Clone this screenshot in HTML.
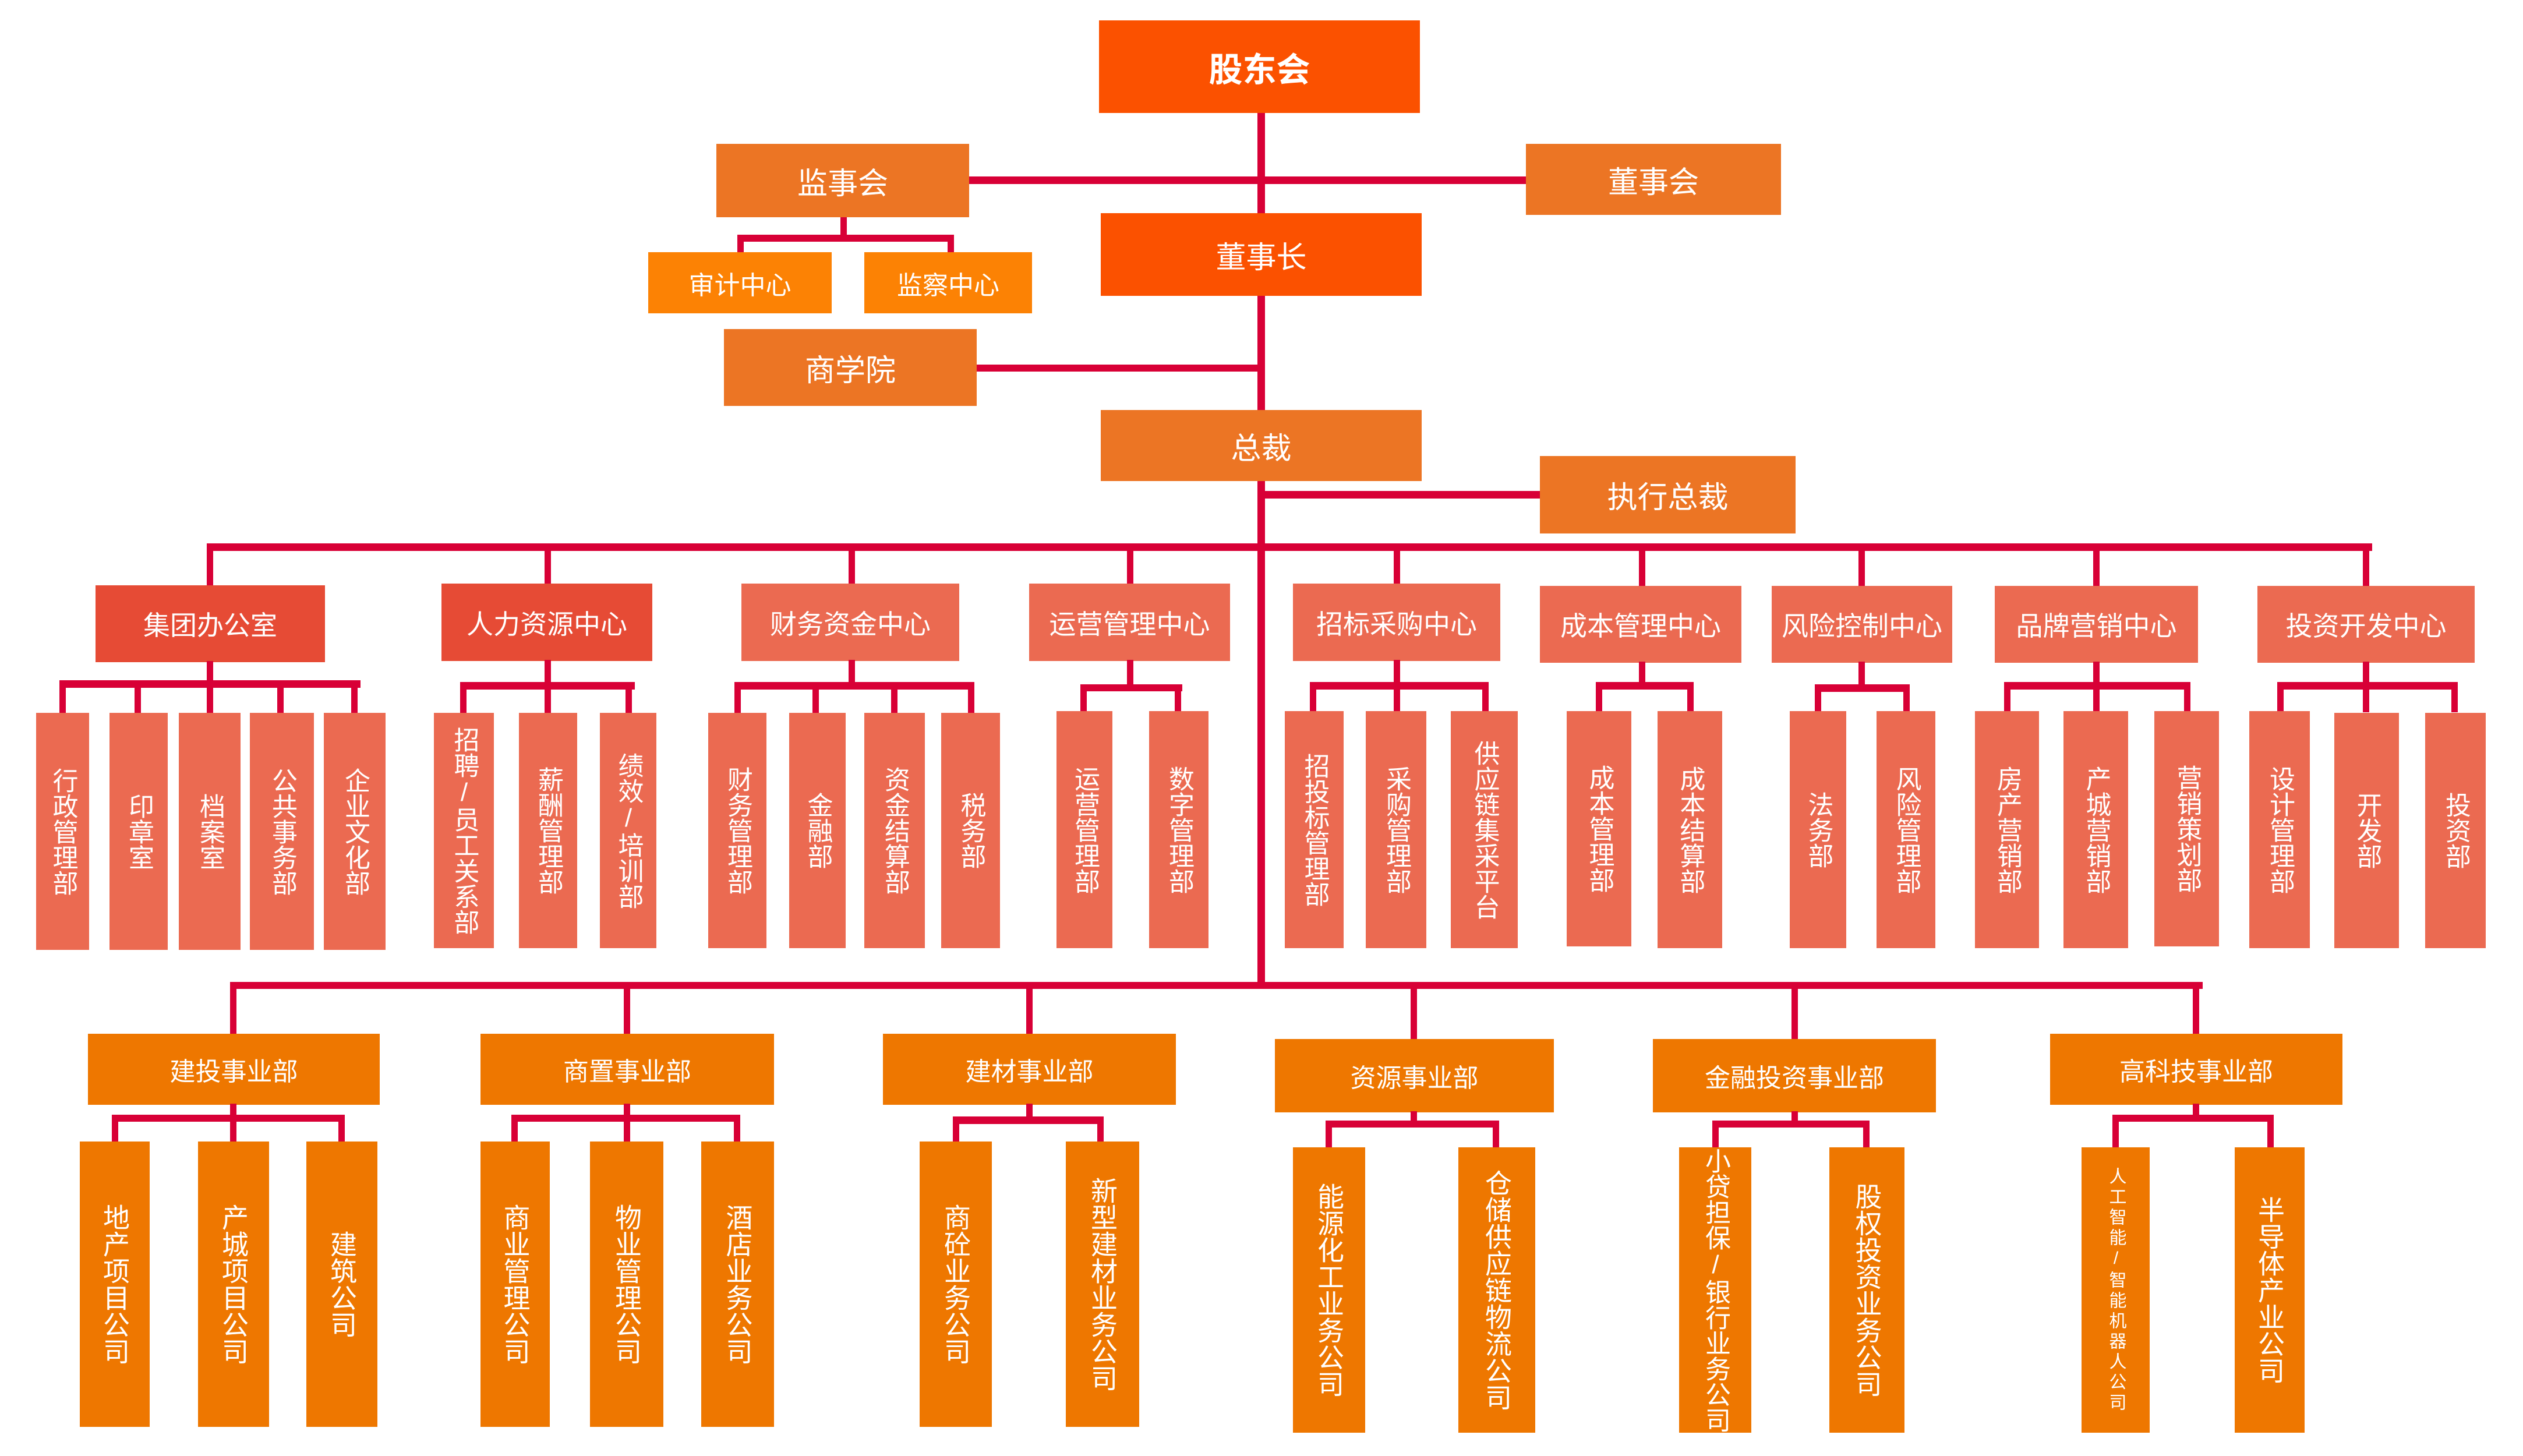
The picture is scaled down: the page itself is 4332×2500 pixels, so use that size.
<!DOCTYPE html>
<html><head><meta charset="utf-8"><style>
*{margin:0;padding:0;box-sizing:border-box}
body{width:4332px;height:2500px;background:#fff;position:relative;overflow:hidden;font-family:"Liberation Sans","Noto Sans CJK SC",sans-serif}
.b{position:absolute;display:flex;align-items:center;justify-content:center;color:#fff;font-size:46px;text-align:center}
.v{writing-mode:vertical-rl;text-orientation:upright;line-height:1;font-size:44px;letter-spacing:0}
.l{position:absolute;background:#d80036}
.r{background:#e64b35}.p{background:#eb6a51}.o{background:#ee7700}.m{background:#ec7524}.t{background:#fb5100}.y{background:#fc8204}
</style></head><body>
<!-- top connectors -->
<div class="l" style="left:2159px;top:190px;width:13px;height:1508px"></div>
<div class="l" style="left:1660px;top:303px;width:964px;height:13px"></div>
<div class="l" style="left:1443px;top:370px;width:11px;height:45px"></div>
<div class="l" style="left:1266px;top:403px;width:372px;height:12px"></div>
<div class="l" style="left:1266px;top:403px;width:11px;height:32px"></div>
<div class="l" style="left:1627px;top:403px;width:11px;height:32px"></div>
<div class="l" style="left:1675px;top:626px;width:490px;height:12px"></div>
<div class="l" style="left:2165px;top:843px;width:482px;height:13px"></div>
<div class="l" style="left:355px;top:933px;width:3718px;height:13px"></div>

<div class="b t" style="left:1887px;top:35px;width:551px;height:159px;font-size:58px;font-weight:bold">股东会</div>
<div class="b m" style="left:1230px;top:247px;width:434px;height:126px;font-size:52px">监事会</div>
<div class="b m" style="left:2620px;top:247px;width:438px;height:122px;font-size:52px">董事会</div>
<div class="b t" style="left:1890px;top:366px;width:551px;height:142px;font-size:52px">董事长</div>
<div class="b y" style="left:1113px;top:433px;width:315px;height:105px;font-size:44px">审计中心</div>
<div class="b y" style="left:1484px;top:433px;width:288px;height:105px;font-size:44px">监察中心</div>
<div class="b m" style="left:1243px;top:565px;width:434px;height:132px;font-size:52px">商学院</div>
<div class="b m" style="left:1890px;top:704px;width:551px;height:122px;font-size:52px">总裁</div>
<div class="b m" style="left:2644px;top:783px;width:439px;height:133px;font-size:52px">执行总裁</div>

<!-- center connectors -->
<div class="l" style="left:355px;top:940px;width:11px;height:66px"></div>
<div class="l" style="left:935px;top:940px;width:11px;height:64px"></div>
<div class="l" style="left:1457px;top:940px;width:11px;height:64px"></div>
<div class="l" style="left:1935px;top:940px;width:11px;height:64px"></div>
<div class="l" style="left:2393px;top:940px;width:11px;height:64px"></div>
<div class="l" style="left:2814px;top:940px;width:11px;height:68px"></div>
<div class="l" style="left:3191px;top:940px;width:11px;height:68px"></div>
<div class="l" style="left:3594px;top:940px;width:11px;height:68px"></div>
<div class="l" style="left:4057px;top:940px;width:11px;height:68px"></div>

<div class="b r" style="left:164px;top:1005px;width:394px;height:132px">集团办公室</div>
<div class="b r" style="left:758px;top:1002px;width:362px;height:133px">人力资源中心</div>
<div class="b p" style="left:1273px;top:1002px;width:374px;height:133px">财务资金中心</div>
<div class="b p" style="left:1767px;top:1002px;width:345px;height:133px">运营管理中心</div>
<div class="b p" style="left:2220px;top:1002px;width:356px;height:133px">招标采购中心</div>
<div class="b p" style="left:2644px;top:1006px;width:346px;height:132px">成本管理中心</div>
<div class="b p" style="left:3042px;top:1006px;width:310px;height:132px">风险控制中心</div>
<div class="b p" style="left:3425px;top:1006px;width:349px;height:132px">品牌营销中心</div>
<div class="b p" style="left:3876px;top:1006px;width:373px;height:132px">投资开发中心</div>

<!-- sub brackets (middle) -->
<div class="l" style="left:355px;top:1135px;width:11px;height:40px"></div>
<div class="l" style="left:102px;top:1168px;width:517px;height:13px"></div>
<div class="l" style="left:102px;top:1168px;width:11px;height:56px"></div>
<div class="l" style="left:231px;top:1168px;width:11px;height:56px"></div>
<div class="l" style="left:355px;top:1168px;width:11px;height:56px"></div>
<div class="l" style="left:476px;top:1168px;width:11px;height:56px"></div>
<div class="l" style="left:603px;top:1168px;width:11px;height:56px"></div>

<div class="l" style="left:935px;top:1133px;width:11px;height:45px"></div>
<div class="l" style="left:790px;top:1171px;width:300px;height:13px"></div>
<div class="l" style="left:790px;top:1171px;width:11px;height:53px"></div>
<div class="l" style="left:935px;top:1171px;width:11px;height:53px"></div>
<div class="l" style="left:1074px;top:1171px;width:11px;height:53px"></div>

<div class="l" style="left:1457px;top:1133px;width:11px;height:45px"></div>
<div class="l" style="left:1261px;top:1171px;width:412px;height:13px"></div>
<div class="l" style="left:1261px;top:1171px;width:11px;height:53px"></div>
<div class="l" style="left:1395px;top:1171px;width:11px;height:53px"></div>
<div class="l" style="left:1530px;top:1171px;width:11px;height:53px"></div>
<div class="l" style="left:1662px;top:1171px;width:11px;height:53px"></div>

<div class="l" style="left:1935px;top:1133px;width:11px;height:48px"></div>
<div class="l" style="left:1855px;top:1175px;width:175px;height:12px"></div>
<div class="l" style="left:1855px;top:1175px;width:11px;height:48px"></div>
<div class="l" style="left:2017px;top:1175px;width:11px;height:48px"></div>

<div class="l" style="left:2393px;top:1133px;width:11px;height:45px"></div>
<div class="l" style="left:2249px;top:1171px;width:307px;height:13px"></div>
<div class="l" style="left:2249px;top:1171px;width:11px;height:52px"></div>
<div class="l" style="left:2393px;top:1171px;width:11px;height:52px"></div>
<div class="l" style="left:2545px;top:1171px;width:11px;height:52px"></div>

<div class="l" style="left:2814px;top:1136px;width:11px;height:42px"></div>
<div class="l" style="left:2740px;top:1171px;width:168px;height:13px"></div>
<div class="l" style="left:2740px;top:1171px;width:11px;height:52px"></div>
<div class="l" style="left:2897px;top:1171px;width:11px;height:52px"></div>

<div class="l" style="left:3191px;top:1136px;width:11px;height:45px"></div>
<div class="l" style="left:3116px;top:1175px;width:163px;height:13px"></div>
<div class="l" style="left:3116px;top:1175px;width:11px;height:48px"></div>
<div class="l" style="left:3268px;top:1175px;width:11px;height:48px"></div>

<div class="l" style="left:3594px;top:1136px;width:11px;height:42px"></div>
<div class="l" style="left:3441px;top:1171px;width:314px;height:13px"></div>
<div class="l" style="left:3441px;top:1171px;width:11px;height:52px"></div>
<div class="l" style="left:3594px;top:1171px;width:11px;height:52px"></div>
<div class="l" style="left:3750px;top:1171px;width:11px;height:52px"></div>

<div class="l" style="left:4057px;top:1136px;width:11px;height:42px"></div>
<div class="l" style="left:3910px;top:1171px;width:310px;height:13px"></div>
<div class="l" style="left:3910px;top:1171px;width:11px;height:52px"></div>
<div class="l" style="left:4057px;top:1171px;width:11px;height:52px"></div>
<div class="l" style="left:4209px;top:1171px;width:11px;height:52px"></div>

<!-- middle leaves -->
<div class="b p v" style="left:62px;top:1224px;width:91px;height:407px">行政管理部</div>
<div class="b p v" style="left:188px;top:1224px;width:100px;height:407px">印章室</div>
<div class="b p v" style="left:307px;top:1224px;width:106px;height:407px">档案室</div>
<div class="b p v" style="left:429px;top:1224px;width:110px;height:407px">公共事务部</div>
<div class="b p v" style="left:556px;top:1224px;width:106px;height:407px">企业文化部</div>
<div class="b p v" style="left:745px;top:1224px;width:103px;height:404px">招聘/员工关系部</div>
<div class="b p v" style="left:891px;top:1224px;width:100px;height:404px">薪酬管理部</div>
<div class="b p v" style="left:1030px;top:1224px;width:97px;height:404px">绩效/培训部</div>
<div class="b p v" style="left:1216px;top:1224px;width:100px;height:404px">财务管理部</div>
<div class="b p v" style="left:1355px;top:1224px;width:97px;height:404px">金融部</div>
<div class="b p v" style="left:1484px;top:1224px;width:104px;height:404px">资金结算部</div>
<div class="b p v" style="left:1616px;top:1224px;width:101px;height:404px">税务部</div>
<div class="b p v" style="left:1814px;top:1221px;width:96px;height:407px">运营管理部</div>
<div class="b p v" style="left:1973px;top:1221px;width:102px;height:407px">数字管理部</div>
<div class="b p v" style="left:2206px;top:1221px;width:101px;height:407px">招投标管理部</div>
<div class="b p v" style="left:2345px;top:1221px;width:104px;height:407px">采购管理部</div>
<div class="b p v" style="left:2491px;top:1221px;width:115px;height:407px">供应链集采平台</div>
<div class="b p v" style="left:2690px;top:1221px;width:111px;height:404px">成本管理部</div>
<div class="b p v" style="left:2846px;top:1221px;width:111px;height:407px">成本结算部</div>
<div class="b p v" style="left:3073px;top:1221px;width:97px;height:407px">法务部</div>
<div class="b p v" style="left:3222px;top:1221px;width:101px;height:407px">风险管理部</div>
<div class="b p v" style="left:3391px;top:1221px;width:110px;height:407px">房产营销部</div>
<div class="b p v" style="left:3543px;top:1221px;width:111px;height:407px">产城营销部</div>
<div class="b p v" style="left:3699px;top:1221px;width:111px;height:404px">营销策划部</div>
<div class="b p v" style="left:3862px;top:1221px;width:104px;height:407px">设计管理部</div>
<div class="b p v" style="left:4008px;top:1224px;width:111px;height:404px">开发部</div>
<div class="b p v" style="left:4164px;top:1224px;width:104px;height:404px">投资部</div>

<!-- bottom -->
<div class="l" style="left:395px;top:1686px;width:3387px;height:12px"></div>
<div class="l" style="left:395px;top:1690px;width:11px;height:86px"></div>
<div class="l" style="left:1071px;top:1690px;width:11px;height:86px"></div>
<div class="l" style="left:1762px;top:1690px;width:11px;height:86px"></div>
<div class="l" style="left:2422px;top:1690px;width:11px;height:95px"></div>
<div class="l" style="left:3076px;top:1690px;width:11px;height:95px"></div>
<div class="l" style="left:3765px;top:1690px;width:11px;height:86px"></div>

<div class="b o" style="left:151px;top:1775px;width:501px;height:122px;font-size:44px">建投事业部</div>
<div class="b o" style="left:825px;top:1775px;width:504px;height:122px;font-size:44px">商置事业部</div>
<div class="b o" style="left:1516px;top:1775px;width:503px;height:122px;font-size:44px">建材事业部</div>
<div class="b o" style="left:2189px;top:1784px;width:479px;height:126px;font-size:44px">资源事业部</div>
<div class="b o" style="left:2838px;top:1784px;width:486px;height:126px;font-size:44px">金融投资事业部</div>
<div class="b o" style="left:3520px;top:1775px;width:502px;height:122px;font-size:44px">高科技事业部</div>

<div class="l" style="left:395px;top:1895px;width:11px;height:25px"></div>
<div class="l" style="left:192px;top:1914px;width:400px;height:12px"></div>
<div class="l" style="left:192px;top:1914px;width:11px;height:46px"></div>
<div class="l" style="left:395px;top:1914px;width:11px;height:46px"></div>
<div class="l" style="left:581px;top:1914px;width:11px;height:46px"></div>

<div class="l" style="left:1071px;top:1895px;width:11px;height:25px"></div>
<div class="l" style="left:878px;top:1914px;width:393px;height:12px"></div>
<div class="l" style="left:878px;top:1914px;width:11px;height:46px"></div>
<div class="l" style="left:1071px;top:1914px;width:11px;height:46px"></div>
<div class="l" style="left:1260px;top:1914px;width:11px;height:46px"></div>

<div class="l" style="left:1762px;top:1895px;width:11px;height:28px"></div>
<div class="l" style="left:1636px;top:1917px;width:259px;height:13px"></div>
<div class="l" style="left:1636px;top:1917px;width:11px;height:43px"></div>
<div class="l" style="left:1884px;top:1917px;width:11px;height:43px"></div>

<div class="l" style="left:2422px;top:1908px;width:11px;height:22px"></div>
<div class="l" style="left:2276px;top:1924px;width:298px;height:12px"></div>
<div class="l" style="left:2276px;top:1924px;width:11px;height:46px"></div>
<div class="l" style="left:2563px;top:1924px;width:11px;height:46px"></div>

<div class="l" style="left:3076px;top:1908px;width:11px;height:22px"></div>
<div class="l" style="left:2940px;top:1924px;width:270px;height:12px"></div>
<div class="l" style="left:2940px;top:1924px;width:11px;height:46px"></div>
<div class="l" style="left:3199px;top:1924px;width:11px;height:46px"></div>

<div class="l" style="left:3765px;top:1895px;width:11px;height:25px"></div>
<div class="l" style="left:3627px;top:1914px;width:277px;height:12px"></div>
<div class="l" style="left:3627px;top:1914px;width:11px;height:56px"></div>
<div class="l" style="left:3893px;top:1914px;width:11px;height:56px"></div>

<div class="b o v" style="left:137px;top:1960px;width:120px;height:490px;font-size:46px">地产项目公司</div>
<div class="b o v" style="left:340px;top:1960px;width:122px;height:490px;font-size:46px">产城项目公司</div>
<div class="b o v" style="left:526px;top:1960px;width:122px;height:490px;font-size:46px">建筑公司</div>
<div class="b o v" style="left:825px;top:1960px;width:119px;height:490px;font-size:46px">商业管理公司</div>
<div class="b o v" style="left:1013px;top:1960px;width:126px;height:490px;font-size:46px">物业管理公司</div>
<div class="b o v" style="left:1204px;top:1960px;width:125px;height:490px;font-size:46px">酒店业务公司</div>
<div class="b o v" style="left:1579px;top:1960px;width:124px;height:490px;font-size:46px">商砼业务公司</div>
<div class="b o v" style="left:1830px;top:1960px;width:126px;height:490px;font-size:46px">新型建材业务公司</div>
<div class="b o v" style="left:2220px;top:1970px;width:124px;height:490px;font-size:46px">能源化工业务公司</div>
<div class="b o v" style="left:2504px;top:1970px;width:132px;height:490px;font-size:46px">仓储供应链物流公司</div>
<div class="b o v" style="left:2883px;top:1970px;width:124px;height:490px;font-size:44px">小贷担保/银行业务公司</div>
<div class="b o v" style="left:3141px;top:1970px;width:129px;height:490px;font-size:46px">股权投资业务公司</div>
<div class="b o v" style="left:3574px;top:1970px;width:117px;height:490px;font-size:30px;letter-spacing:5px">人工智能/智能机器人公司</div>
<div class="b o v" style="left:3837px;top:1970px;width:120px;height:490px;font-size:46px">半导体产业公司</div>
</body></html>
